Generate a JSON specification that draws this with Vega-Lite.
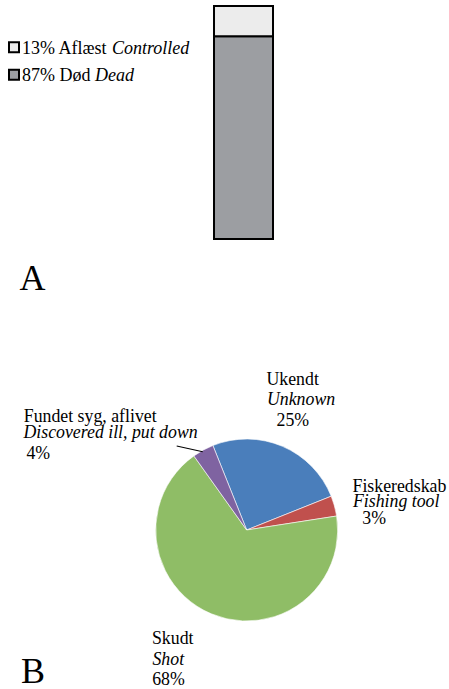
{
  "$schema": "https://vega.github.io/schema/vega-lite/v6.json",
  "background": "white",
  "padding": {"top": 5, "left": 0, "right": 0, "bottom": 0},
  "spacing": 0,
  "bounds": "flush",
  "resolve": {"scale": {"color": "independent"}},
  "config": {"view": {"stroke": null}, "font": "Liberation Serif", "text": {"font": "Liberation Serif", "color": "black"}},
  "vconcat": [
    {
      "width": 449,
      "height": 233,
      "data": {"values": [
        {"cat": "Død", "en": "Dead", "legend": "87% Død", "value": 87, "order": 1},
        {"cat": "Aflæst", "en": "Controlled", "legend": "13% Aflæst", "value": 13, "order": 2}
      ]},
      "title": {"text": "A", "orient": "bottom", "anchor": "start", "frame": "group", "baseline": "alphabetic", "offset": 50, "dx": 19.5, "fontSize": 36, "font": "Liberation Serif", "fontWeight": "normal", "color": "black"},
      "resolve": {"scale": {"x": "independent", "y": "independent"}},
      "layer": [
        {
          "mark": {"type": "bar", "stroke": "black", "strokeWidth": 2, "width": {"band": 0.3942}},
          "encoding": {
            "x": {"datum": "bar", "type": "nominal", "scale": {"type": "band", "paddingInner": 0, "paddingOuter": 1, "align": 0.5635}, "axis": null},
            "y": {"field": "value", "type": "quantitative", "stack": "zero", "scale": {"domain": [0, 100]}, "axis": null},
            "order": {"field": "order", "type": "quantitative"},
            "color": {"field": "cat", "type": "nominal", "scale": {"domain": ["Aflæst", "Død"], "range": ["#ececec", "#9c9ea2"]}, "legend": null}
          }
        },
        {
          "mark": {"type": "point", "shape": "square", "size": 100, "filled": true, "stroke": "black", "strokeWidth": 2, "opacity": 1},
          "encoding": {
            "x": {"datum": "legend", "type": "nominal", "scale": {"type": "point", "padding": 0, "align": 0.03118}, "axis": null},
            "y": {"field": "order", "type": "quantitative", "scale": {"domain": [-4.9964, 3.5073], "nice": false, "zero": false}, "axis": null},
            "color": {"field": "cat", "type": "nominal", "scale": {"domain": ["Aflæst", "Død"], "range": ["#ececec", "#9c9ea2"]}, "legend": null}
          }
        },
        {
          "mark": {"type": "text", "align": "left", "baseline": "alphabetic", "dx": 8, "dy": 6.5, "fontSize": 18},
          "encoding": {
            "x": {"datum": "legend", "type": "nominal", "scale": {"type": "point", "padding": 0, "align": 0.03118}, "axis": null},
            "y": {"field": "order", "type": "quantitative", "scale": {"domain": [-4.9964, 3.5073], "nice": false, "zero": false}, "axis": null},
            "text": {"field": "legend"}
          }
        },
        {
          "transform": [{"filter": "datum.cat === 'Aflæst'"}],
          "mark": {"type": "text", "align": "left", "baseline": "alphabetic", "dx": 98, "dy": 6.5, "fontSize": 18, "fontStyle": "italic"},
          "encoding": {
            "x": {"datum": "legend", "type": "nominal", "scale": {"type": "point", "padding": 0, "align": 0.03118}, "axis": null},
            "y": {"field": "order", "type": "quantitative", "scale": {"domain": [-4.9964, 3.5073], "nice": false, "zero": false}, "axis": null},
            "text": {"field": "en"}
          }
        },
        {
          "transform": [{"filter": "datum.cat === 'Død'"}],
          "mark": {"type": "text", "align": "left", "baseline": "alphabetic", "dx": 81, "dy": 6.5, "fontSize": 18, "fontStyle": "italic"},
          "encoding": {
            "x": {"datum": "legend", "type": "nominal", "scale": {"type": "point", "padding": 0, "align": 0.03118}, "axis": null},
            "y": {"field": "order", "type": "quantitative", "scale": {"domain": [-4.9964, 3.5073], "nice": false, "zero": false}, "axis": null},
            "text": {"field": "en"}
          }
        }
      ]
    },
    {
      "width": 449,
      "height": 446,
      "data": {"values": [
        {"cat": "Ukendt", "en": "Unknown", "pct": "25%", "value": 25.0, "order": 1},
        {"cat": "Fiskeredskab", "en": "Fishing tool", "pct": "3%", "value": 3.6, "order": 2},
        {"cat": "Skudt", "en": "Shot", "pct": "68%", "value": 67.6, "order": 3},
        {"cat": "Fundet syg, aflivet", "en": "Discovered ill, put down", "pct": "4%", "value": 3.8, "order": 4}
      ]},
      "title": {"text": "B", "orient": "bottom", "anchor": "start", "frame": "group", "baseline": "alphabetic", "offset": -6, "dx": 21, "fontSize": 36, "font": "Liberation Serif", "fontWeight": "normal", "color": "black"},
      "encoding": {
        "x": {"datum": "pie", "type": "nominal", "scale": {"type": "point", "padding": 0, "align": 0.54944}, "axis": null},
        "y": {"datum": "pie", "type": "nominal", "scale": {"type": "point", "padding": 0, "align": 0.65247}, "axis": null}
      },
      "layer": [
        {
          "encoding": {
            "theta": {"field": "value", "type": "quantitative", "stack": true, "scale": {"domain": [0, 100], "range": [-0.38048, 5.90271]}},
            "order": {"field": "order", "type": "quantitative"}
          },
          "layer": [
            {
              "mark": {"type": "arc", "radius": 91, "stroke": "white", "strokeWidth": 0.6},
              "encoding": {
                "color": {"field": "cat", "type": "nominal", "scale": {"domain": ["Ukendt", "Fiskeredskab", "Skudt", "Fundet syg, aflivet"], "range": ["#4a7ebb", "#c0504d", "#8fbd66", "#7f63a1"]}, "legend": null}
              }
            },
            {"mark": {"type": "text", "radius": 100, "align": "left", "baseline": "alphabetic", "fontSize": 17.8, "dx": -19.6, "dy": -53.1},
             "encoding": {"text": {"condition": {"test": "datum.order === 1", "field": "cat"}, "value": ""}}},
            {"mark": {"type": "text", "radius": 100, "align": "left", "baseline": "alphabetic", "fontSize": 17.8, "fontStyle": "italic", "dx": -19.1, "dy": -33.1},
             "encoding": {"text": {"condition": {"test": "datum.order === 1", "field": "en"}, "value": ""}}},
            {"mark": {"type": "text", "radius": 100, "align": "left", "baseline": "alphabetic", "fontSize": 17.8, "dx": -9.5, "dy": -12.1},
             "encoding": {"text": {"condition": {"test": "datum.order === 1", "field": "pct"}, "value": ""}}},
            {"mark": {"type": "text", "radius": 100, "align": "left", "baseline": "alphabetic", "fontSize": 17.8, "dx": 9.35, "dy": -11.9},
             "encoding": {"text": {"condition": {"test": "datum.order === 2", "field": "cat"}, "value": ""}}},
            {"mark": {"type": "text", "radius": 100, "align": "left", "baseline": "alphabetic", "fontSize": 17.8, "fontStyle": "italic", "dx": 9.85, "dy": 3.9},
             "encoding": {"text": {"condition": {"test": "datum.order === 2", "field": "en"}, "value": ""}}},
            {"mark": {"type": "text", "radius": 100, "align": "left", "baseline": "alphabetic", "fontSize": 17.8, "dx": 19.2, "dy": 20.4},
             "encoding": {"text": {"condition": {"test": "datum.order === 2", "field": "pct"}, "value": ""}}},
            {"mark": {"type": "text", "radius": 100, "align": "left", "baseline": "alphabetic", "fontSize": 17.8, "dx": -55.9, "dy": 22.1},
             "encoding": {"text": {"condition": {"test": "datum.order === 3", "field": "cat"}, "value": ""}}},
            {"mark": {"type": "text", "radius": 100, "align": "left", "baseline": "alphabetic", "fontSize": 17.8, "fontStyle": "italic", "dx": -55.4, "dy": 42.8},
             "encoding": {"text": {"condition": {"test": "datum.order === 3", "field": "en"}, "value": ""}}},
            {"mark": {"type": "text", "radius": 100, "align": "left", "baseline": "alphabetic", "fontSize": 17.8, "dx": -55.7, "dy": 62.8},
             "encoding": {"text": {"condition": {"test": "datum.order === 3", "field": "pct"}, "value": ""}}},
            {"mark": {"type": "text", "radius": 100, "align": "left", "baseline": "alphabetic", "fontSize": 17.8, "dx": -175, "dy": -20.5},
             "encoding": {"text": {"condition": {"test": "datum.order === 4", "field": "cat"}, "value": ""}}},
            {"mark": {"type": "text", "radius": 100, "align": "left", "baseline": "alphabetic", "fontSize": 17.8, "fontStyle": "italic", "dx": -175.3, "dy": -4.7},
             "encoding": {"text": {"condition": {"test": "datum.order === 4", "field": "en"}, "value": ""}}},
            {"mark": {"type": "text", "radius": 100, "align": "left", "baseline": "alphabetic", "fontSize": 17.8, "dx": -172.3, "dy": 16.8},
             "encoding": {"text": {"condition": {"test": "datum.order === 4", "field": "pct"}, "value": ""}}}
          ]
        },
        {
          "transform": [{"filter": "datum.order === 4"}],
          "mark": {"type": "point", "shape": "stroke", "size": 708, "angle": 12.4, "stroke": "black", "strokeWidth": 1, "opacity": 1, "xOffset": -57, "yOffset": -81.15},
          "encoding": {}
        }
      ]
    }
  ]
}
